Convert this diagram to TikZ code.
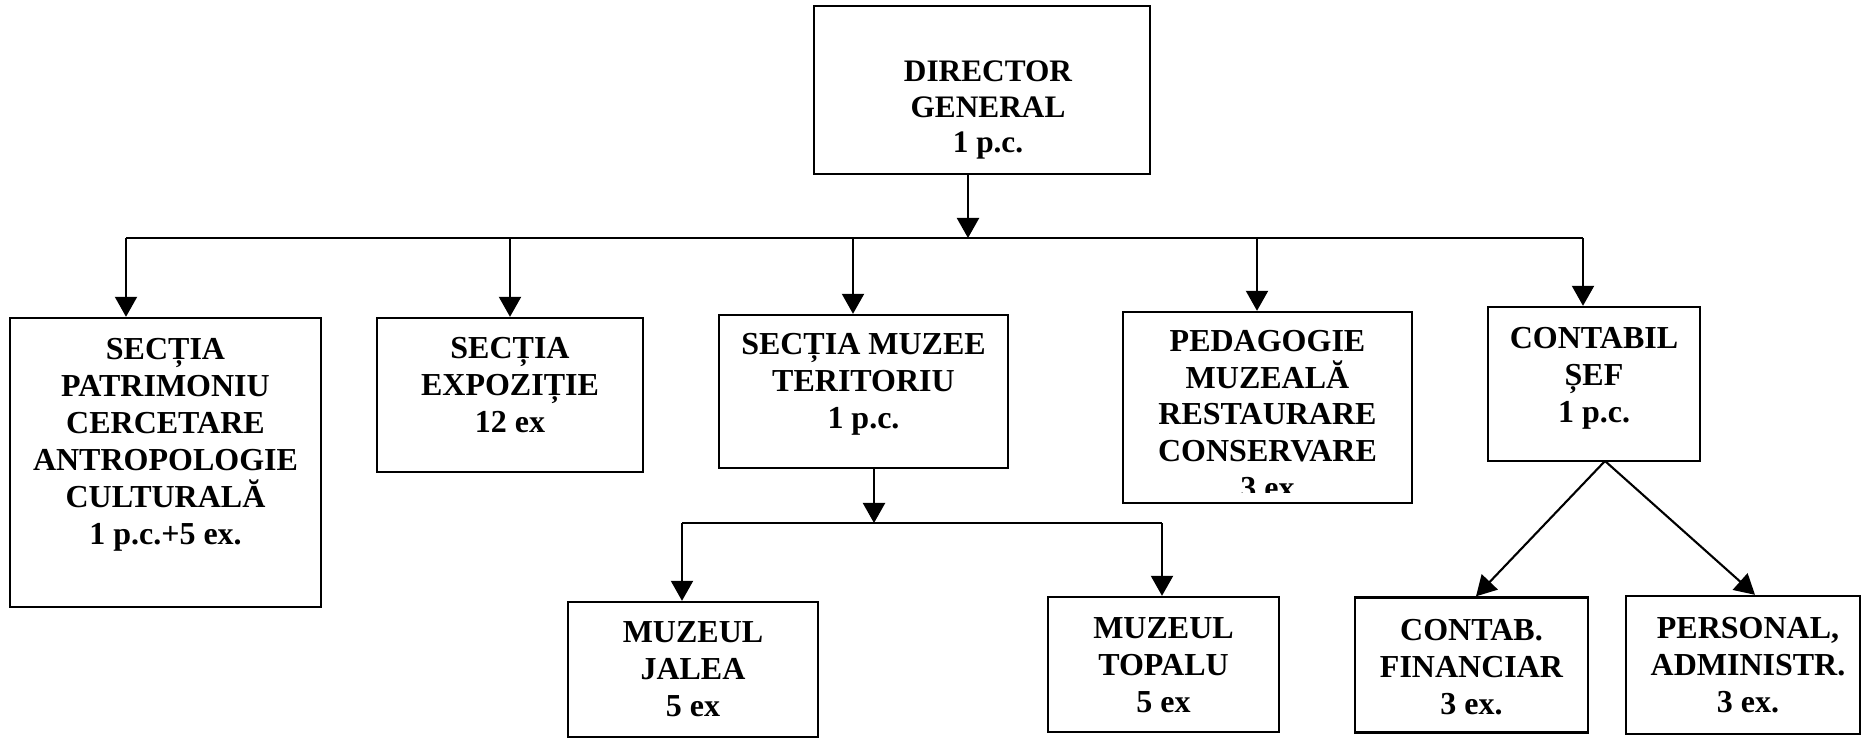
\documentclass[tikz,border=0pt]{standalone}
\usepackage{fontspec}
\setmainfont{Liberation Serif}
\usetikzlibrary{arrows.meta}

\tikzset{
  box/.style={draw, line width=0.65pt, inner sep=0pt},
  lbl/.style={align=center, inner sep=0pt, font=\bfseries\fontsize{9.1}{10.5}\selectfont},
  ln/.style={line width=0.6pt},
  arr/.style={line width=0.6pt, -{Triangle[width=0.22cm,length=0.2cm]}}
}

\begin{document}
\begin{tikzpicture}[x=0.01cm, y=-0.01cm]
\useasboundingbox (0,0) rectangle (1863,739);

% director
\node[box, minimum width=3.36cm, minimum height=1.68cm] (dir) at (982,90) {};
\node[lbl, font=\bfseries\fontsize{8.9}{10.2}\selectfont] (dirT) at (988,110) {DIRECTOR\\GENERAL\\1 p.c.};

% sectii
\node[box, minimum width=3.11cm, minimum height=2.89cm] (pat) at (165.5,462.5) {};
\node[lbl] (patT) at (165.5,445) {SECȚIA\\PATRIMONIU\\CERCETARE\\ANTROPOLOGIE\\CULTURALĂ\\1 p.c.+5 ex.};

\node[box, minimum width=2.66cm, minimum height=1.54cm] (exp) at (510,395) {};
\node[lbl] (expT) at (510,385) {SECȚIA\\EXPOZIȚIE\\12 ex};

\node[box, minimum width=2.89cm, minimum height=1.53cm] (muz) at (863.5,391.5) {};
\node[lbl] (muzT) at (863.5,384) {SECȚIA MUZEE\\TERITORIU\\1 p.c.};

\node[box, minimum width=2.89cm, minimum height=1.91cm] (ped) at (1267.5,407.5) {};
\begin{scope}
\clip (1124,313) rectangle (1411,492);
\node[lbl] (pedT) at (1267.5,414.5) {PEDAGOGIE\\MUZEALĂ\\RESTAURARE\\CONSERVARE\\3 ex};
\end{scope}

\node[box, minimum width=2.12cm, minimum height=1.54cm] (con) at (1594,384) {};
\node[lbl] (conT) at (1594,378) {CONTABIL\\ȘEF\\1 p.c.};

% muzee + contabilitate
\node[box, minimum width=2.5cm, minimum height=1.35cm] (jal) at (693,669.5) {};
\node[lbl] (jalT) at (693,669.5) {MUZEUL\\JALEA\\5 ex};

\node[box, minimum width=2.31cm, minimum height=1.35cm] (topa) at (1163.5,664.5) {};
\node[lbl] (topaT) at (1163.5,665) {MUZEUL\\TOPALU\\5 ex};

\node[box, minimum width=2.33cm, minimum height=1.35cm] (fin) at (1471.5,665) {};
\node[lbl] (finT) at (1471.5,667) {CONTAB.\\FINANCIAR\\3 ex.};

\node[box, minimum width=2.34cm, minimum height=1.38cm] (per) at (1743,665) {};
\node[lbl] (perT) at (1748,665) {PERSONAL,\\ADMINISTR.\\3 ex.};

% bus
\coordinate (busD) at (968,238);
\coordinate (busL) at (126,238);
\coordinate (busE) at (510,238);
\coordinate (busM) at (853,238);
\coordinate (busP) at (1257,238);
\coordinate (busR) at (1583,238);

\draw[arr] (dir.south -| busD) -- (busD);
\draw[ln] (busL) -- (busR);
\draw[arr] (busL) -- (busL |- pat.north);
\draw[arr] (busE) -- (busE |- exp.north);
\draw[arr] (busM) -- (busM |- muz.north);
\draw[arr] (busP) -- (busP |- ped.north);
\draw[arr] (busR) -- (busR |- con.north);

% sub bus
\coordinate (subD) at (874,523);
\coordinate (subL) at (682,523);
\coordinate (subR) at (1162,523);

\draw[arr] (muz.south -| subD) -- (subD);
\draw[ln] (subL) -- (subR);
\draw[arr] (subL) -- (subL |- jal.north);
\draw[arr] (subR) -- (subR |- topa.north);

% contabil
\coordinate (conS) at (1605,461);
\coordinate (finN) at (1476,598);
\coordinate (perN) at (1755,598);
\draw[arr] (conS) -- (finN |- fin.north);
\draw[arr] (conS) -- (perN |- per.north);

\end{tikzpicture}
\end{document}
